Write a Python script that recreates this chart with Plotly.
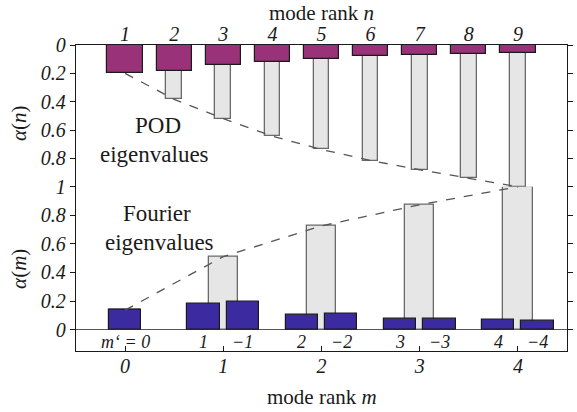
import plotly.graph_objects as go

# ---- data ----
pod_rank = [1, 2, 3, 4, 5, 6, 7, 8, 9]
pod_eig = [0.200, 0.183, 0.141, 0.120, 0.096, 0.077, 0.068, 0.061, 0.059]
pod_cum = [0.200, 0.383, 0.519, 0.643, 0.737, 0.815, 0.880, 0.941, 1.000]

fourier_rank = [0, 1, 2, 3, 4]
fourier_pos = [0.136, 0.183, 0.105, 0.075, 0.068]   # m' = 0, 1, 2, 3, 4
fourier_neg = [None, 0.192, 0.108, 0.073, 0.059]    # m' = -1, -2, -3, -4
fourier_cum = [0.136, 0.511, 0.726, 0.874, 1.000]

pos_labels = ["m\u2018 = 0", "1", "2", "3", "4"]
neg_labels = ["", "\u22121", "\u22122", "\u22123", "\u22124"]

top_ticks = [0, 0.2, 0.4, 0.6, 0.8, 1]
top_ticktext = ["0", "0.2", "0.4", "0.6", "0.8", "1"]
bot_ticks = [0, 0.2, 0.4, 0.6, 0.8]
bot_ticktext = ["0", "0.2", "0.4", "0.6", "0.8"]

# ---- styling ----
SERIF = "Liberation Serif"
PURPLE = "#993279"
BLUE = "#3b2aa0"
GRAY = "#e6e6e6"
GRAY_EDGE = "#6a6a6a"
DASH = "#555555"

pod_x = [(n - 1) / 2 for n in pod_rank]   # two POD modes per Fourier rank step
W_POD = 0.36
W_POD_CUM = 0.16
W_F = 0.33
W_F_CUM = 0.30
SPLIT = 0.2

fig = go.Figure()

# cumulative (gray) bars
fig.add_trace(go.Bar(x=pod_x, y=pod_cum, width=W_POD_CUM, xaxis="x2", yaxis="y",
                     marker=dict(color=GRAY, line=dict(color=GRAY_EDGE, width=1.3)),
                     showlegend=False, hoverinfo="skip"))
fig.add_trace(go.Bar(x=fourier_rank, y=fourier_cum, width=W_F_CUM, xaxis="x", yaxis="y2",
                     marker=dict(color=GRAY, line=dict(color=GRAY_EDGE, width=1.3)),
                     showlegend=False, hoverinfo="skip"))

# dashed lines through cumulative values
fig.add_trace(go.Scatter(x=pod_x, y=pod_cum, mode="lines", xaxis="x2", yaxis="y",
                         line=dict(color=DASH, dash="dash", width=1.3), showlegend=False))
fig.add_trace(go.Scatter(x=fourier_rank, y=fourier_cum, mode="lines", xaxis="x", yaxis="y2",
                         line=dict(color=DASH, dash="dash", width=1.3), showlegend=False))

# eigenvalue bars
fig.add_trace(go.Bar(x=pod_x, y=pod_eig, width=W_POD, xaxis="x2", yaxis="y",
                     marker=dict(color=PURPLE, line=dict(color="#1a1a1a", width=1.2)),
                     showlegend=False))
pos_offsets = [-W_F / 2 if m == 0 else -SPLIT - W_F / 2 for m in fourier_rank]
fig.add_trace(go.Bar(x=fourier_rank, y=fourier_pos, width=W_F, offset=pos_offsets,
                     xaxis="x", yaxis="y2",
                     marker=dict(color=BLUE, line=dict(color="#1a1a1a", width=1.2)),
                     showlegend=False))
fig.add_trace(go.Bar(x=fourier_rank, y=fourier_neg, width=W_F, offset=SPLIT - W_F / 2,
                     xaxis="x", yaxis="y2",
                     marker=dict(color=BLUE, line=dict(color="#1a1a1a", width=1.2)),
                     showlegend=False))

TOP_FRAC = 142 / 306.5
split = 1 - TOP_FRAC

tickfont = dict(family=SERIF, size=20, color="#1a1a1a", style="italic")
axis_common = dict(showgrid=False, showline=True, linecolor="#1a1a1a", linewidth=1.3,
                   tickfont=tickfont, tickcolor="#1a1a1a")

fig.update_layout(
    width=577, height=412,
    margin=dict(l=76, r=4, t=45, b=60.5),
    paper_bgcolor="white", plot_bgcolor="white",
    barmode="overlay", bargap=0,
    xaxis=dict(domain=[0, 1], anchor="y2", range=[-0.5, 4.5],
               tickvals=fourier_rank, ticktext=[str(m) for m in fourier_rank],
               ticks="inside", ticklen=5, tickwidth=1, zeroline=False,
               ticklabelstandoff=-3, **axis_common),
    xaxis2=dict(domain=[0, 1], anchor="y", matches="x", side="top",
                tickvals=pod_x, ticktext=[str(n) for n in pod_rank],
                ticks="", zeroline=False, ticklabelstandoff=-5, **axis_common),
    yaxis=dict(domain=[split, 1], anchor="x2", range=[1, 0],
               tickvals=top_ticks, ticktext=top_ticktext,
               ticks="outside", ticklen=5, tickwidth=1, mirror="ticks", zeroline=False,
               **axis_common),
    yaxis2=dict(domain=[0, split], anchor="x", range=[-0.15, 1],
                tickvals=bot_ticks, ticktext=bot_ticktext,
                ticks="outside", ticklen=5, tickwidth=1, mirror="ticks",
                zeroline=True, zerolinecolor="#555555", zerolinewidth=1.3,
                **axis_common),
)

ann = []
titlefont = dict(family=SERIF, size=21, color="#1a1a1a")
ann.append(dict(text="mode rank <i>n</i>", xref="paper", yref="paper", x=0.5, y=1,
                yanchor="middle", yshift=32, showarrow=False, font=titlefont))
ann.append(dict(text="mode rank <i>m</i>", xref="paper", yref="paper", x=0.5, y=0,
                yanchor="middle", yshift=-46, showarrow=False, font=titlefont))
ann.append(dict(text="<i>α</i>(<i>n</i>)", xref="paper", yref="paper", x=0, xshift=-57,
                xanchor="center", yanchor="middle",
                y=split + TOP_FRAC * 0.45, textangle=-90, showarrow=False, font=titlefont))
ann.append(dict(text="<i>α</i>(<i>m</i>)", xref="paper", yref="paper", x=0, xshift=-57,
                xanchor="center", yanchor="middle",
                y=split * 0.5, textangle=-90, showarrow=False, font=titlefont))

lblfont = dict(family=SERIF, size=23, color="#1a1a1a")
ann.append(dict(text="POD", xref="x2", yref="y", x=0.33, y=0.57, showarrow=False, font=lblfont))
ann.append(dict(text="eigenvalues", xref="x2", yref="y", x=0.30, y=0.775, showarrow=False, font=lblfont))
ann.append(dict(text="Fourier", xref="x", yref="y2", x=0.32, y=0.81, showarrow=False, font=lblfont))
ann.append(dict(text="eigenvalues", xref="x", yref="y2", x=0.35, y=0.61, showarrow=False, font=lblfont))

subfont = dict(family=SERIF, size=18, color="#1a1a1a", style="italic")
for m, lp, ln in zip(fourier_rank, pos_labels, neg_labels):
    if m == 0:
        ann.append(dict(text=lp, xref="x", yref="y2", x=m, y=-0.085, showarrow=False, font=subfont))
    else:
        ann.append(dict(text=lp, xref="x", yref="y2", x=m - SPLIT, y=-0.085, showarrow=False, font=subfont))
        ann.append(dict(text=ln, xref="x", yref="y2", x=m + SPLIT, y=-0.085, showarrow=False, font=subfont))

fig.update_layout(annotations=ann)
fig.write_html("out.html", config={"displayModeBar": False},
               post_script="document.body.style.margin='0';document.body.style.overflow='hidden';")
